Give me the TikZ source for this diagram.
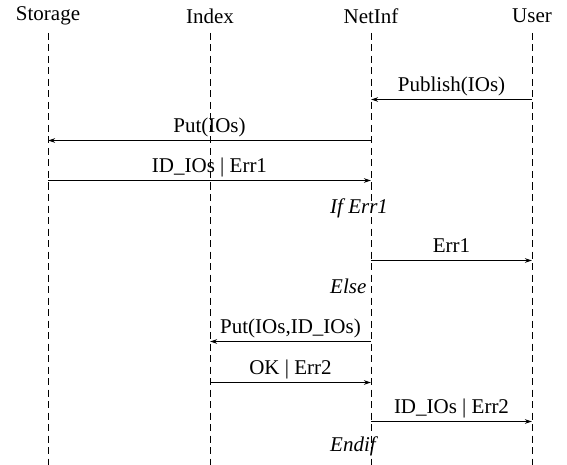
\documentclass[tikz,border=0pt]{standalone}
\usepackage{fontspec}
\setmainfont{Liberation Serif}
\usetikzlibrary{arrows.meta}
\begin{document}
\begin{tikzpicture}[x=1pt,y=-1pt,
  every node/.style={font=\fontsize{21}{25}\selectfont, inner sep=0pt},
  head/.style={anchor=center},
  life/.style={line width=0.9pt, dash pattern=on 7pt off 4.5pt},
  msg/.style={line width=1.1pt, -{Stealth[length=7pt,width=4.5pt]}},
  lbl/.style={anchor=base, yshift=8pt},
  cond/.style={anchor=base west, font=\fontsize{21}{25}\selectfont\itshape}]
\useasboundingbox (0,0) rectangle (567,465);
\node[head] (st) at (48,16) {Storage};
\node[head] (ix) at (210,16) {Index};
\node[head] (ni) at (371,16) {NetInf};
\node[head] (us) at (532,16) {User};
\coordinate (stb) at (48,465);
\coordinate (ixb) at (210,465);
\coordinate (nib) at (371,465);
\coordinate (usb) at (532,465);
\draw[life] (st |- 0,33) -- (stb);
\draw[life] (ix |- 0,33) -- (ixb);
\draw[life] (ni |- 0,33) -- (nib);
\draw[life] (us |- 0,33) -- (usb);
% messages
\draw[msg] (us |- 0,99.5) -- node[lbl]{Publish(IOs)} (ni |- 0,99.5);
\draw[msg] (ni |- 0,140.5) -- node[lbl]{Put(IOs)} (st |- 0,140.5);
\draw[msg] (st |- 0,180.5) -- node[lbl]{ID\_IOs | Err1} (ni |- 0,180.5);
\node[cond] (if) at (330,213) {If Err1};
\draw[msg] (ni |- 0,260.5) -- node[lbl]{Err1} (us |- 0,260.5);
\node[cond] (el) at (330,293) {Else};
\draw[msg] (ni |- 0,341.5) -- node[lbl]{Put(IOs,ID\_IOs)} (ix |- 0,341.5);
\draw[msg] (ix |- 0,382.5) -- node[lbl]{OK | Err2} (ni |- 0,382.5);
\draw[msg] (ni |- 0,421.5) -- node[lbl]{ID\_IOs | Err2} (us |- 0,421.5);
\node[cond] (en) at (330,451) {Endif};
\end{tikzpicture}
\end{document}
